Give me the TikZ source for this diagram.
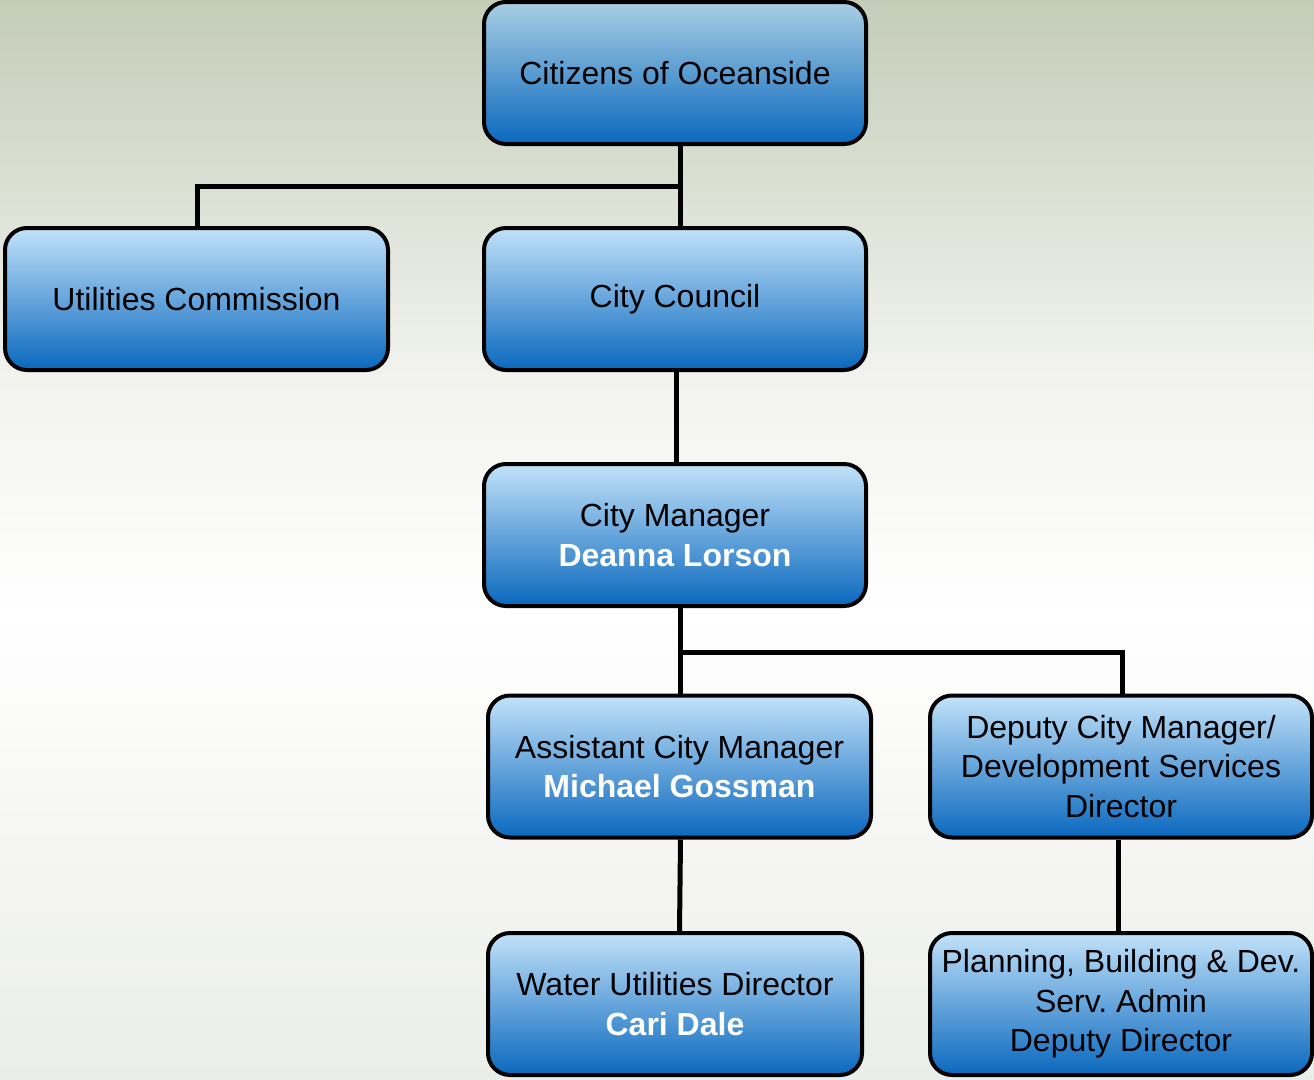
\documentclass[tikz,border=0pt]{standalone}
\usepackage{fontspec}
\setmainfont{Liberation Sans}
\frenchspacing
\definecolor{bgtop}{HTML}{C4CDB8}
\definecolor{bgup}{HTML}{F2F3EF}
\definecolor{bgmid}{HTML}{FFFFFF}
\definecolor{bgbot}{HTML}{EBEDE8}
\definecolor{boxtop}{HTML}{C2E2F9}
\definecolor{boxtopb}{HTML}{A9CFE3}
\definecolor{boxbot}{HTML}{0A68BE}
\pgfdeclareverticalshading{bgshade}{100bp}{color(0bp)=(bgbot); color(25bp)=(bgbot); color(46.5bp)=(bgmid); color(57.5bp)=(bgup); color(75bp)=(bgtop); color(100bp)=(bgtop)}
\pgfdeclarelayer{bglayer}
\pgfdeclarelayer{linklayer}
\pgfsetlayers{bglayer,linklayer,main}
\tikzset{
  orgbox/.style={draw=black, line width=4pt, rounded corners=22pt,
    top color=boxtop, bottom color=boxbot, align=center,
    minimum height=142pt, inner sep=0pt,
    font=\fontsize{32}{39.5}\selectfont},
  link/.style={draw=black, line width=5pt}
}
\newcommand{\pname}[1]{{\bfseries\color{white}#1}}
\begin{document}
\begin{tikzpicture}[x=1pt,y=-1pt]
\useasboundingbox (0,0) rectangle (1314,1079);
\begin{pgfonlayer}{bglayer}
\shade[shading=bgshade] (0,0) rectangle (1314,1079);
\end{pgfonlayer}
\coordinate (j1) at (680,186);
\coordinate (j1l) at (197,186);
\coordinate (j2) at (680,652);
\coordinate (j2r) at (1122,652);
\node[orgbox, minimum width=382pt, top color=boxtopb] (cit) at (675,73) {Citizens of Oceanside};
\node[orgbox, minimum width=383pt] (uc) at (196.5,299) {Utilities Commission};
\node[orgbox, minimum width=382pt] (cc) at (675,299) {City Council};
\node[orgbox, minimum width=382pt] (cm) at (675,535) {City Manager\\\pname{Deanna Lorson}};
\node[orgbox, minimum width=383pt] (acm) at (679.5,766.5) {Assistant City Manager\\\pname{Michael Gossman}};
\node[orgbox, minimum width=382pt] (dcm) at (1121,766.5) {Deputy City Manager/\\Development Services\\Director};
\node[orgbox, minimum width=374pt] (wud) at (675,1004) {Water Utilities Director\\\pname{Cari Dale}};
\node[orgbox, minimum width=382pt] (pb) at (1121,1004) {Planning, Building \& Dev.\\Serv. Admin\\Deputy Director};
\begin{pgfonlayer}{linklayer}
\draw[link] ([xshift=5]cit.south) -- ([xshift=5]cc.north);
\draw[link] (j1) -- (j1l) -- (j1l |- uc.north);
\draw[link] ([xshift=1]cc.south) -- ([xshift=1]cm.north);
\draw[link] ([xshift=5]cm.south) -- (acm.north -| j2);
\draw[link] (j2) -- (j2r) -- (j2r |- dcm.north);
\draw[link] ([xshift=1]acm.south) -- (acm.south |- wud.north);
\draw[link] ([xshift=-3]dcm.south) -- ([xshift=-3]pb.north);
\end{pgfonlayer}
\end{tikzpicture}
\end{document}
